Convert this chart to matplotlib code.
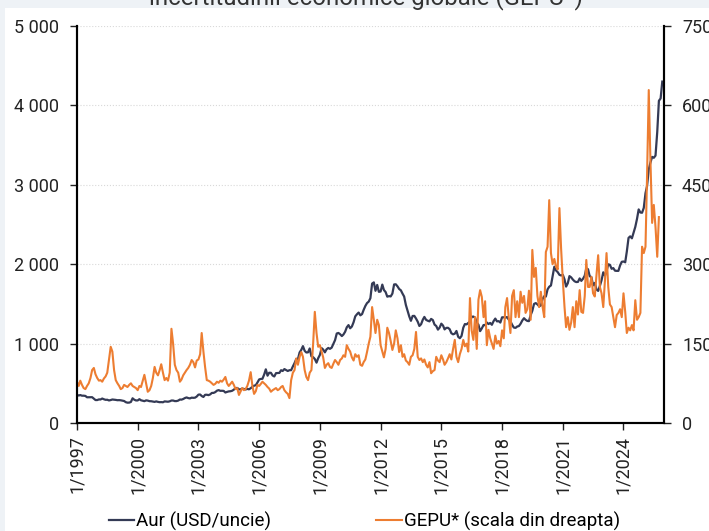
import matplotlib.pyplot as plt
import matplotlib.ticker as mticker
import numpy as np
import pandas as pd
from matplotlib.patches import Rectangle

plt.rcParams.update({
    "font.family": ["Roboto", "DejaVu Sans"],
    "font.size": 13,
})
NAVY = "#343a55"
ORANGE = "#ed7d31"

# monthly gold price, USD/oz, 1/1997 .. 12/2025
gold = [
    355, 346, 352, 344, 344, 341, 324, 324, 323, 325, 306, 289,
    289, 297, 296, 308, 299, 292, 293, 284, 289, 296, 294, 291,
    287, 288, 286, 282, 277, 262, 256, 257, 265, 311, 293, 284,
    284, 300, 286, 280, 275, 285, 282, 275, 274, 270, 266, 272,
    266, 262, 263, 261, 272, 270, 268, 273, 283, 283, 276, 276,
    282, 296, 294, 302, 314, 322, 314, 310, 319, 317, 319, 333,
    357, 359, 340, 328, 355, 356, 351, 360, 379, 379, 389, 407,
    414, 405, 406, 404, 384, 392, 398, 400, 406, 420, 439, 442,
    424, 423, 434, 429, 422, 430, 424, 438, 456, 470, 476, 510,
    549, 555, 557, 610, 676, 596, 633, 632, 598, 586, 628, 629,
    631, 665, 655, 679, 667, 655, 665, 665, 712, 754, 806, 803,
    889, 922, 968, 909, 888, 890, 939, 839, 829, 806, 760, 816,
    858, 943, 925, 890, 928, 945, 934, 949, 996, 1043, 1127, 1134,
    1118, 1095, 1114, 1149, 1205, 1233, 1193, 1215, 1270, 1343, 1370, 1391,
    1356, 1372, 1424, 1474, 1510, 1529, 1572, 1756, 1771, 1665, 1739, 1652,
    1656, 1743, 1675, 1649, 1591, 1598, 1594, 1630, 1745, 1747, 1721, 1688,
    1671, 1628, 1593, 1487, 1414, 1343, 1287, 1348, 1349, 1316, 1276, 1222,
    1244, 1301, 1336, 1299, 1288, 1280, 1311, 1296, 1239, 1222, 1176, 1201,
    1251, 1227, 1179, 1198, 1199, 1181, 1131, 1117, 1125, 1159, 1086, 1068,
    1097, 1200, 1246, 1242, 1260, 1276, 1337, 1341, 1326, 1267, 1238, 1157,
    1192, 1234, 1231, 1266, 1246, 1260, 1237, 1283, 1315, 1280, 1283, 1265,
    1331, 1331, 1325, 1335, 1303, 1282, 1238, 1202, 1198, 1215, 1221, 1250,
    1291, 1320, 1300, 1286, 1283, 1359, 1413, 1500, 1510, 1494, 1470, 1480,
    1560, 1597, 1592, 1683, 1716, 1732, 1846, 1968, 1921, 1900, 1866, 1858,
    1867, 1808, 1718, 1760, 1850, 1834, 1807, 1785, 1775, 1777, 1821, 1790,
    1817, 1856, 1948, 1937, 1849, 1837, 1733, 1764, 1681, 1664, 1726, 1797,
    1898, 1855, 1912, 1999, 1992, 1942, 1951, 1918, 1916, 1916, 1985, 2030,
    2034, 2024, 2159, 2331, 2351, 2326, 2398, 2470, 2571, 2690, 2651, 2648,
    2709, 2894, 2983, 3193, 3280, 3352, 3340, 3368, 3665, 4058, 4088, 4300,
]

# monthly GEPU index, 1/1997 .. 10/2025
gepu = [
    78, 70, 80, 72, 66, 64, 70, 75, 85, 100, 104, 92,
    85, 80, 81, 78, 84, 88, 95, 120, 144, 135, 100, 81,
    75, 70, 64, 66, 72, 70, 68, 72, 75, 70, 68, 66,
    62, 70, 68, 80, 91, 75, 59, 62, 70, 85, 106, 95,
    90, 100, 111, 95, 81, 85, 80, 95, 178, 150, 110, 100,
    95, 78, 82, 90, 95, 100, 104, 110, 119, 115, 105, 118,
    120, 130, 170, 135, 106, 81, 80, 78, 75, 72, 74, 78,
    76, 80, 78, 82, 87, 75, 70, 74, 78, 72, 64, 66,
    53, 60, 66, 62, 64, 70, 80, 96, 70, 55, 60, 72,
    70, 74, 78, 75, 72, 68, 65, 59, 62, 64, 66, 62,
    64, 68, 70, 62, 58, 55, 47, 81, 95, 100, 122, 110,
    125, 134, 125, 100, 87, 81, 95, 100, 150, 210, 170, 144,
    147, 135, 124, 104, 110, 113, 106, 104, 112, 119, 115, 110,
    119, 122, 128, 125, 147, 140, 135, 124, 118, 130, 125, 128,
    110, 108, 115, 120, 134, 150, 163, 219, 195, 170, 195, 185,
    147, 135, 124, 140, 180, 170, 155, 138, 150, 175, 160, 134,
    147, 125, 130, 118, 115, 110, 125, 128, 140, 172, 125, 119,
    122, 115, 120, 110, 105, 115, 94, 98, 100, 125, 118, 115,
    128, 120, 110, 115, 122, 130, 120, 140, 157, 125, 115, 130,
    140, 157, 145, 150, 135, 236, 175, 157, 200, 140, 233, 251,
    238, 200, 230, 147, 176, 160, 150, 140, 165, 150, 155, 145,
    175, 160, 219, 236, 200, 170, 240, 251, 200, 230, 200, 248,
    227, 240, 208, 215, 250, 195, 327, 276, 293, 240, 219, 248,
    220, 200, 323, 333, 421, 321, 300, 310, 295, 290, 406, 330,
    270, 219, 181, 200, 176, 190, 219, 181, 230, 205, 251, 210,
    208, 240, 308, 257, 257, 276, 245, 239, 280, 317, 257, 245,
    219, 270, 321, 257, 224, 219, 200, 181, 204, 208, 215, 200,
    245, 210, 170, 180, 175, 185, 175, 232, 195, 200, 208, 333,
    321, 333, 465, 629, 497, 378, 412, 370, 314, 389,
]

tick_years = [1997, 2000, 2003, 2006, 2009, 2012, 2015, 2018, 2021, 2024]

gold_dates = pd.date_range("1997-01-01", periods=len(gold), freq="MS")
gepu_dates = pd.date_range("1997-01-01", periods=len(gepu), freq="MS")

fig = plt.figure(figsize=(7.09, 5.31), dpi=100, facecolor="#eef2f6")
fig.patches.append(Rectangle((5 / 709, 0), 1, 1 - 8 / 531, transform=fig.transFigure,
                             facecolor="white", edgecolor="none", zorder=-10))
fig.text(0.516, 1 - 4 / 531, "incertitudinii economice globale (GEPU*)",
         ha="center", va="baseline", fontsize=17.3, color="#333333", zorder=-5)

ax = fig.add_axes([77 / 709, 1 - 423 / 531, (664 - 77) / 709, (423 - 26) / 531])
ax.set_facecolor("none")
ax2 = ax.twinx()

l1, = ax.plot(gold_dates, gold, color=NAVY, linewidth=1.6, label="Aur (USD/uncie)")
l2, = ax2.plot(gepu_dates, gepu, color=ORANGE, linewidth=1.5, label="GEPU* (scala din dreapta)")

ax.set_xlim(pd.Timestamp("1997-01-01"), pd.Timestamp("2026-01-01"))
ax.set_ylim(0, 5000)
ax2.set_ylim(0, 750)
ax.set_yticks(np.arange(0, 5001, 1000))
ax2.set_yticks(np.arange(0, 751, 150))
ax.yaxis.set_major_formatter(mticker.FuncFormatter(lambda v, p: f"{int(v):,}".replace(",", " ")))

ticks = [pd.Timestamp(f"{y}-01-01") for y in tick_years]
ax.set_xticks(ticks)
ax.set_xticklabels([f"1/{y}" for y in tick_years], rotation=90)

ax.grid(axis="y", color="#d9d9d9", linestyle=":", linewidth=0.8)
ax.set_axisbelow(True)
for a in (ax, ax2):
    a.spines["top"].set_visible(False)
    for s in ("left", "right", "bottom"):
        a.spines[s].set_linewidth(1.5)
        a.spines[s].set_color("black")
ax.tick_params(axis="y", direction="out", length=5, width=1, pad=8, labelsize=13, colors="#222222")
ax.tick_params(axis="x", direction="out", length=5, width=1, pad=4, labelsize=13, colors="#222222")
ax2.tick_params(axis="y", direction="out", length=5, width=1, pad=8, labelsize=13, colors="#222222")

fig.legend(handles=[l1, l2], loc="center", bbox_to_anchor=(0.514, 0.0175), ncol=2,
           frameon=False, handlelength=1.35, handletextpad=0.1, columnspacing=5.6,
           fontsize=13.5)

fig.savefig("out.png", dpi=100, facecolor=fig.get_facecolor())
